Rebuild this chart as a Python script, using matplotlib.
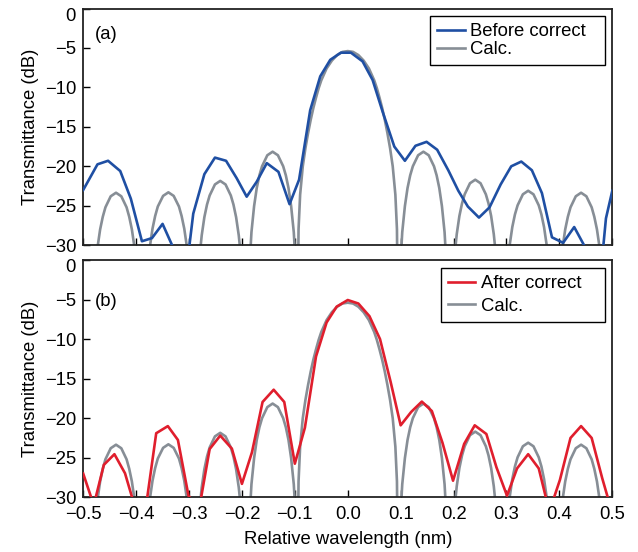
import matplotlib
matplotlib.use("Agg")
import matplotlib.pyplot as plt

plt.rcParams['font.family'] = ['Liberation Sans', 'DejaVu Sans']

# ---------------- data ----------------
x_ticks = [-0.5, -0.4, -0.3, -0.2, -0.1, 0.0, 0.1, 0.2, 0.3, 0.4, 0.5]
x_tick_labels = ['\u22120.5', '\u22120.4', '\u22120.3', '\u22120.2', '\u22120.1',
                 '0.0', '0.1', '0.2', '0.3', '0.4', '0.5']
y_ticks = [0, -5, -10, -15, -20, -25, -30]
y_tick_labels = ['0', '\u22125', '\u221210', '\u221215', '\u221220', '\u221225', '\u221230']

# measured transmittance before correction (panel a)
before_x = [-0.500, -0.473, -0.453, -0.430, -0.410, -0.389, -0.370, -0.350, -0.330, -0.310,
            -0.292, -0.271, -0.251, -0.230, -0.210, -0.191, -0.172, -0.153, -0.131, -0.110,
            -0.092, -0.071, -0.052, -0.033, -0.013, 0.006, 0.028, 0.047, 0.066, 0.088,
            0.108, 0.128, 0.149, 0.169, 0.190, 0.209, 0.227, 0.248, 0.268, 0.289,
            0.309, 0.328, 0.348, 0.367, 0.386, 0.407, 0.428, 0.449, 0.469, 0.488, 0.500]
before_y = [-23.0, -19.75, -19.3, -20.6, -24.1, -29.5, -29.1, -27.3, -30.3, -36.0,
            -26.0, -21.0, -18.9, -19.3, -21.5, -23.85, -21.95, -19.6, -20.7, -24.8,
            -21.7, -12.9, -8.6, -6.5, -5.6, -5.6, -6.7, -9.06, -13.1, -17.5,
            -19.3, -17.4, -16.9, -17.9, -20.5, -23.1, -25.1, -26.5, -25.2, -22.3,
            -20.0, -19.4, -20.5, -23.4, -29.0, -29.7, -27.7, -30.3, -40.0, -26.6, -23.1]

# measured transmittance after correction (panel b)
after_x = [-0.500, -0.480, -0.461, -0.441, -0.421, -0.401, -0.381, -0.362, -0.340, -0.321,
           -0.301, -0.281, -0.261, -0.241, -0.219, -0.200, -0.181, -0.161, -0.140, -0.120,
           -0.100, -0.081, -0.060, -0.040, -0.021, 0.000, 0.020, 0.041, 0.061, 0.081,
           0.100, 0.120, 0.140, 0.159, 0.179, 0.199, 0.220, 0.240, 0.262, 0.281,
           0.301, 0.320, 0.341, 0.361, 0.381, 0.401, 0.421, 0.441, 0.461, 0.481, 0.500]
after_y = [-27.0, -31.0, -25.9, -24.55, -26.96, -31.5, -31.0, -21.9, -21.0, -22.75,
           -29.8, -31.5, -23.9, -22.2, -23.85, -28.3, -24.3, -17.95, -16.4, -17.95,
           -25.75, -21.2, -12.2, -7.9, -5.9, -5.06, -5.5, -7.1, -10.0, -15.4,
           -20.9, -19.2, -17.9, -19.1, -23.1, -27.9, -23.25, -20.9, -22.0, -26.2,
           -29.8, -26.35, -24.55, -26.35, -31.8, -27.8, -22.5, -21.0, -22.5, -27.6, -32.0]

# calculated spectrum (same in both panels)
calc_x = [-0.4885,
          -0.483, -0.478, -0.473, -0.468, -0.463, -0.458, -0.448, -0.438, -0.428, -0.418, -0.413, -0.408, -0.403, -0.398, -0.393,
          -0.3885,
          -0.384, -0.379, -0.374, -0.369, -0.364, -0.359, -0.349, -0.339, -0.329, -0.319, -0.314, -0.309, -0.304, -0.299, -0.294,
          -0.2905,
          -0.286, -0.281, -0.276, -0.271, -0.266, -0.261, -0.251, -0.241, -0.231, -0.221, -0.216, -0.211, -0.206, -0.201, -0.196,
          -0.1915,
          -0.187, -0.182, -0.177, -0.172, -0.167, -0.162, -0.152, -0.142, -0.132, -0.122, -0.117, -0.112, -0.107, -0.102, -0.097,
          -0.0955, -0.093, -0.090, -0.085, -0.080, -0.075, -0.070, -0.065, -0.060, -0.055, -0.050, -0.040, -0.030, -0.020, -0.010,
          0.000, 0.010, 0.020, 0.030, 0.040, 0.050, 0.055, 0.060, 0.065, 0.070, 0.075, 0.080, 0.085, 0.090, 0.093, 0.0955,
          0.098, 0.103, 0.108, 0.113, 0.118, 0.123, 0.133, 0.143, 0.153, 0.163, 0.168, 0.173, 0.178, 0.183, 0.188,
          0.192,
          0.196, 0.201, 0.206, 0.211, 0.216, 0.221, 0.231, 0.241, 0.251, 0.261, 0.266, 0.271, 0.276, 0.281, 0.286,
          0.291,
          0.296, 0.301, 0.306, 0.311, 0.316, 0.321, 0.331, 0.341, 0.351, 0.361, 0.366, 0.371, 0.376, 0.381, 0.386,
          0.391,
          0.396, 0.401, 0.406, 0.411, 0.416, 0.421, 0.431, 0.441, 0.451, 0.461, 0.466, 0.471, 0.476, 0.481, 0.486,
          0.491]
calc_y = [-60,
          -39.5, -33.6, -30.3, -28.0, -26.4, -25.2, -23.8, -23.35, -23.8, -25.2, -26.4, -28.0, -30.3, -33.6, -39.5,
          -60,
          -39.4, -33.5, -30.2, -27.9, -26.3, -25.1, -23.75, -23.3, -23.75, -25.1, -26.3, -27.9, -30.2, -33.5, -39.4,
          -60,
          -37.95, -32.05, -28.75, -26.45, -24.85, -23.7, -22.3, -21.85, -22.3, -23.7, -24.85, -26.45, -28.75, -32.05, -37.95,
          -60,
          -34.25, -28.35, -25.05, -22.75, -21.15, -20.0, -18.6, -18.15, -18.6, -20.0, -21.15, -22.75, -25.05, -28.35, -34.25,
          -45, -28.0, -23.6, -20.0, -17.7, -15.8, -14.1, -12.6, -11.3, -10.1, -9.1, -7.6, -6.6, -5.9, -5.5,
          -5.4, -5.5, -5.9, -6.6, -7.6, -9.1, -10.1, -11.3, -12.6, -14.1, -15.8, -17.7, -20.0, -23.6, -28.0, -45,
          -34.25, -28.35, -25.05, -22.75, -21.15, -20.0, -18.6, -18.15, -18.6, -20.0, -21.15, -22.75, -25.05, -28.35, -34.25,
          -60,
          -37.8, -31.9, -28.6, -26.3, -24.7, -23.55, -22.15, -21.7, -22.15, -23.55, -24.7, -26.3, -28.6, -31.9, -37.8,
          -60,
          -39.2, -33.3, -30.0, -27.7, -26.1, -24.95, -23.55, -23.1, -23.55, -24.95, -26.1, -27.7, -30.0, -33.3, -39.2,
          -60,
          -39.5, -33.6, -30.3, -28.0, -26.4, -25.2, -23.8, -23.35, -23.8, -25.2, -26.4, -28.0, -30.3, -33.6, -39.5,
          -60]

BLUE = '#1f4fa3'
RED = '#e01e2d'
GRAY = '#878e96'
FS = 13.3

W, H = 638, 552
fig = plt.figure(figsize=(W / 100, H / 100), dpi=100)
ax1 = fig.add_axes([83.2 / W, 1 - 245.2 / H, 529.1 / W, 236.7 / H])
ax2 = fig.add_axes([83.2 / W, 1 - 497.3 / H, 529.1 / W, 237.3 / H])


def style(ax, show_x):
    ax.set_xlim(-0.5, 0.5)
    ax.set_ylim(-30, 0)
    ax.set_xticks(x_ticks)
    ax.set_yticks(y_ticks)
    ax.set_yticklabels([''] + y_tick_labels[1:], fontsize=FS)
    if show_x:
        ax.set_xticklabels(x_tick_labels, fontsize=FS)
    else:
        ax.set_xticklabels([])
    ax.tick_params(direction='in', length=5, width=1.0, pad=5, colors='black')
    ax.tick_params(axis='x', pad=6)
    for s in ax.spines.values():
        s.set_linewidth(1.3)
        s.set_color('#222222')
    ax.set_ylabel('Transmittance (dB)', fontsize=FS, labelpad=4)
    ax.annotate(y_tick_labels[0], xy=(0, 0), xycoords=('axes fraction', 'data'),
                xytext=(-5.2, -5.5), textcoords='offset points',
                ha='right', va='center', fontsize=FS)


def add_legend(ax, handles, labels, x0, width, top, spacing, bpad):
    leg = ax.legend(handles, labels, loc='upper left', mode='expand',
                    bbox_to_anchor=(x0, 0, width, top), borderaxespad=0, fontsize=FS,
                    frameon=True, fancybox=False, edgecolor='black', framealpha=1,
                    handlelength=1.5, handletextpad=0.3, labelspacing=spacing,
                    borderpad=bpad)
    leg.get_frame().set_linewidth(1.0)
    return leg


ax1.plot(calc_x, calc_y, color=GRAY, lw=1.9, zorder=2, label='Calc.')
ax1.plot(before_x, before_y, color=BLUE, lw=1.9, zorder=3, label='Before correct')
style(ax1, False)
h, l = ax1.get_legend_handles_labels()
add_legend(ax1, [h[1], h[0]], [l[1], l[0]], 0.6549, 0.3307, 0.9683, 0.05, 0.39)
ax1.text(0.022, 0.892, '(a)', transform=ax1.transAxes, fontsize=FS, va='center', ha='left')

ax2.plot(calc_x, calc_y, color=GRAY, lw=1.9, zorder=2, label='Calc.')
ax2.plot(after_x, after_y, color=RED, lw=1.9, zorder=3, label='After correct')
style(ax2, True)
h, l = ax2.get_legend_handles_labels()
add_legend(ax2, [h[1], h[0]], [l[1], l[0]], 0.6757, 0.3111, 0.965, 0.3, 0.37)
ax2.text(0.022, 0.824, '(b)', transform=ax2.transAxes, fontsize=FS, va='center', ha='left')
ax2.set_xlabel('Relative wavelength (nm)', fontsize=FS, labelpad=6)

fig.savefig('out.png', dpi=100)
